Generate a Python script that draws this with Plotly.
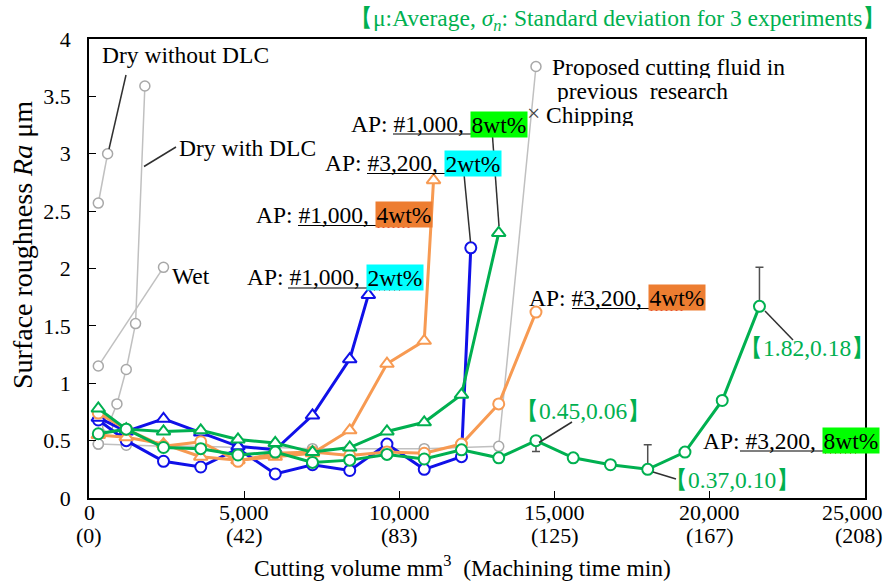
import plotly.graph_objects as go

# ---------------- data ----------------
x_tick_vals = [0, 5000, 10000, 15000, 20000, 25000]
x_tick_vol = ["0", "5,000", "10,000", "15,000", "20,000", "25,000"]
x_tick_time = ["(0)", "(42)", "(83)", "(125)", "(167)", "(208)"]

dry_no_dlc_x = [300, 600]
dry_no_dlc_y = [2.57, 3.00]

dry_dlc_x = [300, 600, 900, 1200, 1500, 1800]
dry_dlc_y = [0.47, 0.62, 0.82, 1.12, 1.52, 3.59]

wet_x = [300, 2400]
wet_y = [1.15, 2.01]

prop_x = [300, 1200, 2400, 3600, 4800, 6000, 7200, 8400, 9600, 10800, 12000, 13200, 14400]
prop_y = [0.47, 0.46, 0.45, 0.45, 0.44, 0.44, 0.43, 0.43, 0.43, 0.43, 0.44, 0.45, 3.76]

ap1000_2_x = [300, 1200, 2400, 3600, 4800, 6000, 7200, 8400, 9000]
ap1000_2_y = [0.70, 0.58, 0.69, 0.57, 0.45, 0.42, 0.72, 1.21, 1.77]

ap3200_2_x = [300, 1200, 2400, 3600, 4800, 6000, 7200, 8400, 9600, 10800, 12000, 12300]
ap3200_2_y = [0.68, 0.50, 0.32, 0.27, 0.43, 0.21, 0.29, 0.24, 0.47, 0.25, 0.36, 2.18]

ap1000_4_x = [300, 1200, 2400, 3600, 4800, 6000, 7200, 8400, 9600, 10800, 11100]
ap1000_4_y = [0.55, 0.53, 0.47, 0.36, 0.33, 0.36, 0.39, 0.59, 1.17, 1.37, 2.77]

ap3200_4_x = [300, 1200, 2400, 3600, 4800, 6000, 7200, 8400, 9600, 10800, 12000, 13200, 14400]
ap3200_4_y = [0.74, 0.60, 0.45, 0.49, 0.32, 0.39, 0.40, 0.37, 0.40, 0.39, 0.47, 0.82, 1.62]

ap1000_8_x = [300, 1200, 2400, 3600, 4800, 6000, 7200, 8400, 9600, 10800, 12000, 13200]
ap1000_8_y = [0.78, 0.60, 0.58, 0.59, 0.51, 0.48, 0.40, 0.44, 0.58, 0.66, 0.90, 2.31]

ap3200_8_x = [300, 1200, 2400, 3600, 4800, 6000, 7200, 8400, 9600, 10800, 12000, 13200,
              14400, 15600, 16800, 18000, 19200, 20400, 21600]
ap3200_8_y = [0.56, 0.60, 0.44, 0.43, 0.375, 0.40, 0.31, 0.33, 0.38, 0.34, 0.42, 0.35,
              0.50, 0.35, 0.29, 0.25, 0.40, 0.85, 1.67]
ap3200_8_err_plus = [0, 0, 0, 0, 0, 0, 0, 0, 0, 0, 0, 0, 0, 0, 0, 0.215, 0, 0, 0.34]
ap3200_8_err_minus = [0, 0, 0, 0, 0, 0, 0, 0, 0, 0, 0, 0, 0.094, 0, 0, 0, 0, 0, 0]

# ---------------- styling ----------------
FONT = "Liberation Serif"
FS = 23.5
TFS = 22
GRAY_LINE = "#C0C0C0"
GRAY_MK = "#A8A8A8"
BLUE = "#1010E8"
ORANGE = "#F79A52"
GREEN = "#00B050"
TXT_GREEN = "#00B050"

W, H = 888, 584
L, R, T, B = 89, 865, 39, 498  # plot area in pixels


def xp(px):
    return (px - L) / (R - L)


def yp(py):
    return (B - py) / (B - T)


fig = go.Figure()


def add_series(x, y, color, symbol, width, msize, mline, mcolor=None):
    fig.add_trace(go.Scatter(
        x=x, y=y, mode="lines+markers",
        line=dict(color=color, width=width),
        marker=dict(symbol=symbol, size=msize, color="white",
                    line=dict(color=mcolor or color, width=mline)),
        showlegend=False, hoverinfo="skip", cliponaxis=False))


add_series(prop_x, prop_y, GRAY_LINE, "circle", 1.5, 10, 1.5, GRAY_MK)
add_series(dry_no_dlc_x, dry_no_dlc_y, GRAY_LINE, "circle", 1.5, 10, 1.5, GRAY_MK)
add_series(dry_dlc_x, dry_dlc_y, GRAY_LINE, "circle", 1.5, 10, 1.5, GRAY_MK)
add_series(wet_x, wet_y, GRAY_LINE, "circle", 1.5, 10, 1.5, GRAY_MK)
add_series(ap3200_2_x, ap3200_2_y, BLUE, "circle", 3, 11, 2)
add_series(ap1000_2_x, ap1000_2_y, BLUE, "triangle-up", 3, 12, 2)
add_series(ap1000_4_x, ap1000_4_y, ORANGE, "triangle-up", 3, 12, 2)
add_series(ap3200_4_x, ap3200_4_y, ORANGE, "circle", 3, 11, 2)
add_series(ap1000_8_x, ap1000_8_y, GREEN, "triangle-up", 3, 12, 2)

# error bars (only where present)
ex, ey, ep, em = [], [], [], []
for xv, yv, p, m in zip(ap3200_8_x, ap3200_8_y, ap3200_8_err_plus, ap3200_8_err_minus):
    if p or m:
        ex.append(xv); ey.append(yv); ep.append(p); em.append(m)
fig.add_trace(go.Scatter(
    x=ex, y=ey, mode="markers", marker=dict(size=1, opacity=0),
    error_y=dict(type="data", symmetric=False, array=ep, arrayminus=em,
                 color="#505050", thickness=1.5, width=4),
    showlegend=False, hoverinfo="skip"))

add_series(ap3200_8_x, ap3200_8_y, GREEN, "circle", 3, 11, 2)

# ---------------- annotations ----------------
ann = []
shapes = []


def text(t, px, py, anchor="left", color="black", size=FS, **kw):
    ann.append(dict(text=t, x=xp(px), y=yp(py), xref="paper", yref="paper",
                    showarrow=False, xanchor=anchor, yanchor="middle",
                    font=dict(family=FONT, size=size, color=color), borderpad=0, **kw))


def seg(x0, y0, x1, y1, color="#303030", width=1.5):
    shapes.append(dict(type="line", xref="paper", yref="paper",
                       x0=xp(x0), y0=yp(y0), x1=xp(x1), y1=yp(y1),
                       line=dict(color=color, width=width)))


def wavy(x0, x1, y):
    pts = []
    x = x0
    up = True
    while x <= x1:
        pts.append((xp(x), yp(y - 1.5 if up else y + 1.5)))
        up = not up
        x += 2.5
    path = "M " + " L ".join(f"{a:.5f},{b:.5f}" for a, b in pts)
    shapes.append(dict(type="path", xref="paper", yref="paper", path=path,
                       line=dict(color="#E00000", width=1)))


# x tick labels (two rows: volume and machining time)
for xv, vol, tm in zip(x_tick_vals, x_tick_vol, x_tick_time):
    last = xv == x_tick_vals[-1]
    xpos = xp(885) if last else xv / 25000
    anc = "right" if last else "center"
    for lab, py in ((vol, 512), (tm, 535)):
        ann.append(dict(text=lab, x=xpos, y=yp(py), xref="paper", yref="paper",
                        showarrow=False, xanchor=anc, yanchor="middle",
                        font=dict(family=FONT, size=TFS, color="black")))

# Simple labels
text("Dry without DLC", 101, 55)
text("Dry with DLC", 178, 148)
text("Wet", 171, 276)
text("Proposed cutting fluid in", 551, 67, height=22)
text("previous  research", 556, 91, height=22)
text("×", 533, 113, anchor="center", color="#404040", height=22)
text("Chipping", 545, 115, height=22)

# AP labels with highlighted concentration
ap_labels = [
    # left text, highlight text, highlight colour, hl start, hl end, centre y, underline start, underline y
    ("AP: #1,000,", "8wt%", "#00FF00", 470, 526, 124, 393, 134),
    ("AP: #3,200,", "2wt%", "#00FFFF", 444, 500, 163, 367, 173.5),
    ("AP: #1,000,", "4wt%", "#ED7D31", 375, 431, 214.5, 298, 225.5),
    ("AP: #1,000,", "2wt%", "#00FFFF", 366, 422, 277, 288, 288),
    ("AP: #3,200,", "4wt%", "#ED7D31", 648, 704, 298, 572, 308.5),
    ("AP: #3,200,", "8wt%", "#00FF00", 822, 878, 440.5, 740, 451),
]
for lt, ht, hc, h0, h1, cy, u0, uy in ap_labels:
    text(ht, h0, cy, anchor="left", bgcolor=hc, width=h1 - h0, height=25, align="center")
    text(lt, h0 - 5, cy, anchor="right")
    seg(u0, uy, h1, uy, color="black", width=1.2)
    wavy(h0 + 1, h0 + 37, uy + 1)

# Green mean/std labels (CJK brackets carry side bearing, hence offsets)
text("【0.45,0.06】", 514, 411, color=TXT_GREEN)
text("【1.82,0.18】", 738, 348, color=TXT_GREEN)
text("【0.37,0.10】", 663, 480, color=TXT_GREEN)
text("【μ:Average, <i>σ<sub>n</sub></i>: Standard deviation for 3 experiments】",
     887, 20, anchor="right", color=TXT_GREEN)

# Leader lines
seg(109, 149, 126, 75)
seg(144, 166.5, 176, 147)
seg(492.5, 136.5, 499, 226)
seg(464, 174, 470.5, 242)
seg(539, 442.5, 572, 422)
seg(765, 311, 793, 340)
seg(653, 472, 676, 479)

# Axis titles
text("Cutting volume mm<sup>3</sup>  (Machining time min)", 462, 566, anchor="center")
ann.append(dict(text="Surface roughness <i>Ra</i> μm", x=xp(22), y=yp(245),
                xref="paper", yref="paper", showarrow=False, textangle=-90,
                xanchor="center", yanchor="middle",
                font=dict(family=FONT, size=28, color="black")))

fig.update_layout(
    width=W, height=H,
    margin=dict(l=L, r=W - R, t=T, b=H - B, pad=0),
    paper_bgcolor="white", plot_bgcolor="white",
    font=dict(family=FONT, size=FS, color="black"),
    annotations=ann, shapes=shapes, showlegend=False,
)
fig.update_xaxes(
    range=[0, 25000], tickvals=x_tick_vals, showticklabels=False,
    ticks="inside", ticklen=7, tickwidth=1.2, tickcolor="black",
    showline=True, linecolor="black", linewidth=1.5, mirror=True,
    showgrid=False, zeroline=False,
)
fig.update_yaxes(
    range=[0, 4], dtick=0.5, tick0=0,
    ticks="inside", ticklen=7, tickwidth=1.2, tickcolor="black",
    showline=True, linecolor="black", linewidth=1.5, mirror=True,
    showgrid=False, zeroline=False, ticklabelstandoff=12,
    tickfont=dict(family=FONT, size=TFS, color="black"),
)

fig.write_html("out.html")
